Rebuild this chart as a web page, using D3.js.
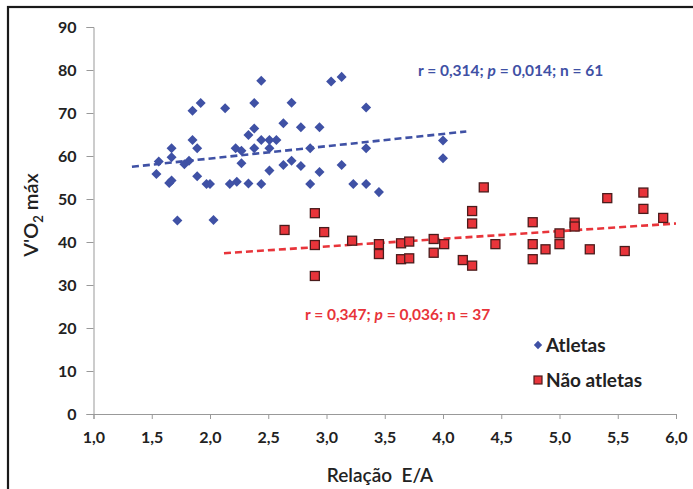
<!DOCTYPE html>
<html>
<head>
<meta charset="utf-8">
<script src="https://cdn.jsdelivr.net/npm/d3@7"></script>
<style>
body{margin:0;background:#fff;}
svg{display:block;}
.tick text{font-family:Lato,"Open Sans",sans-serif;font-weight:bold;font-size:16px;fill:#222;}
</style>
</head>
<body>
<div id="chart"></div>
<script>
// Atletas (diamantes azuis)
var atletasX=[2.44,1.85,1.92,2.13,2.38,2.70,2.63,2.78,2.94,2.38,2.33,1.85,1.67,1.89,2.44,2.51,2.57,2.22,2.27,2.38,2.51,2.86,3.34,1.67,1.56,1.78,1.82,2.27,2.63,2.70,2.78,3.13,1.54,1.89,2.51,2.94,1.65,1.67,1.97,2.00,2.17,2.23,2.33,2.44,2.86,3.23,3.34,3.04,3.13,3.34,4.00,4.00,3.45,1.72,2.03];
var atletasY=[77.5,70.5,72.3,71.1,72.3,72.4,67.6,66.7,66.7,66.4,64.9,63.7,61.8,61.8,63.7,63.7,63.7,61.8,61.2,61.8,61.8,61.8,61.8,59.7,58.7,58.1,58.9,58.3,57.9,58.9,57.7,57.9,55.8,55.3,56.6,56.3,53.7,54.3,53.5,53.5,53.5,54.0,53.6,53.5,53.5,53.5,53.5,77.3,78.4,71.3,63.6,59.5,51.6,45.0,45.1];
// Não atletas (quadrados vermelhos)
var naoX=[2.90,2.64,2.98,2.90,2.90,3.22,3.45,3.45,3.64,3.71,3.64,3.71,3.92,4.01,3.92,4.17,4.25,4.35,4.25,4.25,4.45,4.77,4.77,4.77,4.88,5.00,5.00,5.13,5.13,5.26,5.41,5.56,5.72,5.72,5.89];
var naoY=[46.7,42.8,42.3,39.3,32.1,40.3,39.5,37.2,39.7,40.1,36.0,36.2,40.7,39.5,37.5,35.8,34.5,52.7,47.2,44.3,39.5,44.6,39.5,36.0,38.3,42.0,39.5,44.5,43.6,38.3,50.2,37.9,51.5,47.7,45.6];
// linhas de tendência [x0,x1], [y0,y1]
var trendAtlX=[1.33,4.20];var trendAtlY=[57.5,65.7];
var trendNaoX=[2.12,6.0];var trendNaoY=[37.4,44.3];
var xTicks=[1.0,1.5,2.0,2.5,3.0,3.5,4.0,4.5,5.0,5.5,6.0];
var yTicks=[0,10,20,30,40,50,60,70,80,90];

var blue="#3f51a5";var red="#e8343a";
var width=693,height=489;
var font="Lato,sans-serif";

var svg=d3.select("#chart").append("svg").attr("width",width).attr("height",height);

svg.append("rect").attr("x",8).attr("y",7).attr("width",width).attr("height",height)
	.attr("fill","#fff").attr("stroke","#1a1a1a").attr("stroke-width",2.2);

var x=d3.scaleLinear().domain([1,6]).range([93.5,676]);
var y=d3.scaleLinear().domain([0,90]).range([414,27]);

var comma=function(f){return function(d){return f(d).replace(".",",");};};

svg.append("g").attr("transform","translate(0,"+y(0)+")")
	.call(d3.axisBottom(x).tickValues(xTicks).tickFormat(comma(d3.format(".1f"))).tickSizeOuter(0).tickSize(5).tickPadding(13));
svg.append("g").attr("transform","translate("+x(1)+",0)")
	.call(d3.axisLeft(y).tickValues(yTicks).tickFormat(d3.format("d")).tickSizeOuter(0).tickSize(7).tickPadding(10));
svg.selectAll(".domain").attr("stroke","#999");
svg.selectAll(".tick line").attr("stroke","#999");

// trend lines
var line=d3.line().x(function(d){return x(d[0]);}).y(function(d){return y(d[1]);});
svg.append("path").datum(d3.zip(trendAtlX,trendAtlY)).attr("d",line)
	.attr("fill","none").attr("stroke",blue).attr("stroke-width",2.6).attr("stroke-dasharray","7,4");
svg.append("path").datum(d3.zip(trendNaoX,trendNaoY)).attr("d",line)
	.attr("fill","none").attr("stroke",red).attr("stroke-width",2.6).attr("stroke-dasharray","7,4");

var diamond=d3.symbol().type(d3.symbolDiamond2).size(64);

svg.append("g").selectAll("path").data(d3.zip(atletasX,atletasY)).enter().append("path")
	.attr("d",diamond)
	.attr("transform",function(d){return "translate("+x(d[0])+","+y(d[1])+")";})
	.attr("fill",blue);

svg.append("g").selectAll("rect").data(d3.zip(naoX,naoY)).enter().append("rect")
	.attr("x",function(d){return x(d[0])-4.5;})
	.attr("y",function(d){return y(d[1])-4.5;})
	.attr("width",9).attr("height",9)
	.attr("fill",red).attr("stroke","#4a1c1c").attr("stroke-width",1.3);

// annotations
svg.append("text").attr("x",418).attr("y",76)
	.style("font-family",font).style("font-weight","bold").style("font-size","15.5px").attr("fill",blue)
	.html('r = 0,314; <tspan font-style="italic">p</tspan> = 0,014; n = 61');
svg.append("text").attr("x",305).attr("y",320)
	.style("font-family",font).style("font-weight","bold").style("font-size","15.5px").attr("fill",red)
	.html('r = 0,347; <tspan font-style="italic">p</tspan> = 0,036; n = 37');

// legend
svg.append("path").attr("d",d3.symbol().type(d3.symbolDiamond2).size(44))
	.attr("transform","translate(538,345)").attr("fill",blue);
svg.append("text").attr("x",546).attr("y",352).text("Atletas")
	.style("font-family",font).style("font-weight","bold").style("font-size","19px").attr("fill","#222");
svg.append("rect").attr("x",534).attr("y",376).attr("width",8).attr("height",8)
	.attr("fill",red).attr("stroke","#4a1c1c").attr("stroke-width",1.2);
svg.append("text").attr("x",546).attr("y",387).text("Não atletas")
	.style("font-family",font).style("font-weight","bold").style("font-size","19px").attr("fill","#222");

// axis titles
svg.append("text").attr("x",380).attr("y",482).attr("text-anchor","middle").text("Relação  E/A")
	.style("font-family",font).style("font-size","19px").style("font-weight","600").attr("fill","#222")
	.style("white-space","pre");
svg.append("text").attr("transform","translate(38,215) rotate(-90)").attr("text-anchor","middle")
	.style("font-family",font).style("font-size","20px").style("font-weight","600").attr("fill","#222")
	.html('V\'O<tspan font-size="13px" dy="5">2</tspan><tspan dy="-5"> máx</tspan>');
</script>
</body>
</html>
